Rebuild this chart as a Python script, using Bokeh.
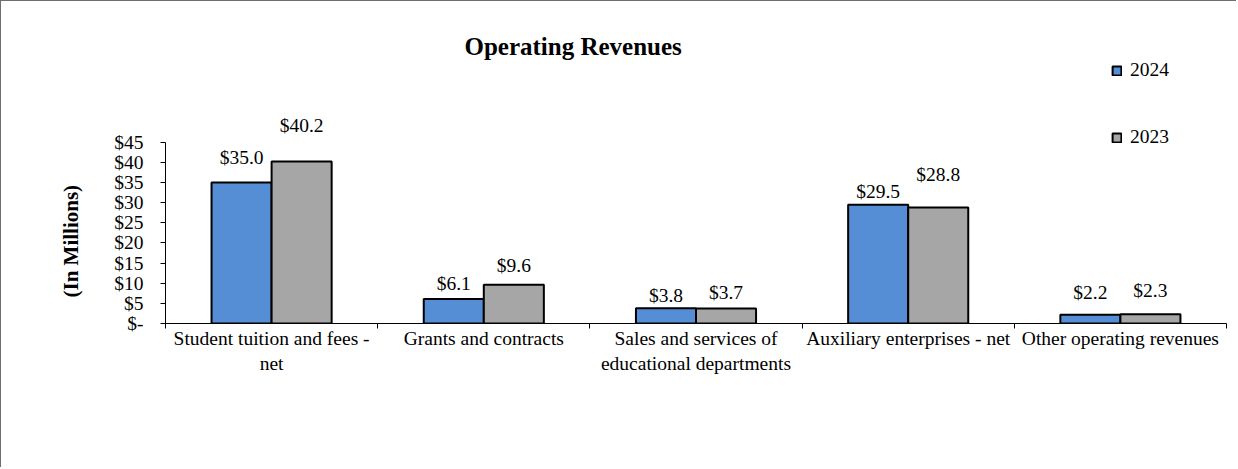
from bokeh.plotting import figure
from bokeh.models import (Range1d, FixedTicker, CustomJSTickFormatter, Legend,
                          LegendItem, ColumnDataSource, Title)
from bokeh.transform import dodge
from bokeh.core.properties import value
from bokeh.embed import file_html
from bokeh.resources import INLINE

# ---------------- data ----------------
categories = [
    "Student tuition and fees - net",
    "Grants and contracts",
    "Sales and services of educational departments",
    "Auxiliary enterprises - net",
    "Other operating revenues",
]
category_labels = [
    "Student tuition and fees -\nnet",
    "Grants and contracts",
    "Sales and services of\neducational departments",
    "Auxiliary enterprises - net",
    "Other operating revenues",
]
series_names = ["2024", "2023"]
values_2024 = [35.0, 6.1, 3.8, 29.5, 2.2]
values_2023 = [40.2, 9.6, 3.7, 28.8, 2.3]
y_ticks = [0, 5, 10, 15, 20, 25, 30, 35, 40, 45]

# label lift above bar top (px) -- layout, kept apart from the data
lift_2024 = [25, 15, 13, 13, 22]
lift_2023 = [36, 19, 16, 33, 24]

# ---------------- styles ----------------
FONT = "Liberation Serif"
BLUE = "#558ED5"
GRAY = "#A6A6A6"
BAR_W = 0.283

n = len(categories)
src = ColumnDataSource(dict(
    x=[i + 0.5 for i in range(n)],
    v2024=values_2024,
    v2023=values_2023,
    t2024=["$%.1f" % v for v in values_2024],
    t2023=["$%.1f" % v for v in values_2023],
    dy2024=[-d for d in lift_2024],
    dy2023=[-d for d in lift_2023],
))

p = figure(width=1236, height=467, output_backend="svg", toolbar_location=None,
           x_range=Range1d(0, n), y_range=Range1d(0, 65.8),
           min_border_left=164, min_border_right=11,
           min_border_top=57, min_border_bottom=145,
           title="Operating Revenues")
p.styles = {"border-left": "1px solid #6e6e6e", "border-top": "1px solid #6e6e6e"}
p.background_fill_color = "white"
p.border_fill_color = "white"
p.outline_line_color = None
p.xgrid.visible = False
p.ygrid.visible = False

p.title.text_font = FONT
p.title.text_font_size = "25px"
p.title.text_font_style = "bold"
p.title.text_color = "black"
p.title.align = "left"
p.title.offset = 299
p.title.standoff = -3

r1 = p.vbar(x=dodge("x", -BAR_W / 2, range=p.x_range), top="v2024", width=BAR_W,
            source=src, fill_color=BLUE, line_color="black", line_width=2)
r2 = p.vbar(x=dodge("x", BAR_W / 2, range=p.x_range), top="v2023", width=BAR_W,
            source=src, fill_color=GRAY, line_color="black", line_width=2)

for col, txt, dy, off in (("v2024", "t2024", "dy2024", -BAR_W / 2),
                          ("v2023", "t2023", "dy2023", BAR_W / 2)):
    p.text(x=dodge("x", off, range=p.x_range), y=col, text=txt, y_offset=dy,
           source=src, text_align="center", text_baseline="middle",
           text_font=value(FONT), text_font_size="19.5px", text_color="black")

# x axis
xa = p.xaxis[0]
xa.ticker = FixedTicker(ticks=[i + 0.5 for i in range(n)],
                        minor_ticks=[i for i in range(n + 1)])
xa.formatter = CustomJSTickFormatter(args=dict(labels=category_labels),
                                     code="return labels[Math.floor(tick)];")
xa.major_tick_out = 0
xa.major_tick_in = 0
xa.minor_tick_out = 5
xa.minor_tick_in = 0
xa.minor_tick_line_color = "black"
xa.axis_line_color = "black"
xa.major_label_text_font = FONT
xa.major_label_text_font_size = "19.5px"
xa.major_label_text_color = "black"
xa.major_label_text_line_height = 1.2
xa.major_label_standoff = -1

# y axis
ya = p.yaxis[0]
ya.bounds = (0, 45)
ya.ticker = FixedTicker(ticks=y_ticks, minor_ticks=[])
ya.formatter = CustomJSTickFormatter(code="return tick == 0 ? '$-' : '$' + tick;")
ya.major_tick_out = 5
ya.major_tick_in = 0
ya.minor_tick_line_color = None
ya.axis_line_color = "black"
ya.major_tick_line_color = "black"
ya.major_label_text_font = FONT
ya.major_label_text_font_size = "19.5px"
ya.major_label_text_color = "black"
ya.major_label_standoff = 17

# y axis title as a side title, so it can sit centred on the 0-45 span
ytitle = Title(text="(In Millions)", align="left", offset=26, standoff=58,
               text_font=FONT, text_font_size="21px", text_font_style="bold",
               text_color="black")
p.add_layout(ytitle, "left")

legend = Legend(items=[LegendItem(label=series_names[0], renderers=[r1]),
                       LegendItem(label=series_names[1], renderers=[r2])],
                location=(946, 175), orientation="vertical")
legend.glyph_width = 11
legend.glyph_height = 11
legend.label_height = 20
legend.label_standoff = 8
legend.spacing = 45
legend.padding = 0
legend.margin = 0
legend.border_line_color = None
legend.background_fill_alpha = 0
legend.label_text_font = FONT
legend.label_text_font_size = "19.5px"
legend.label_text_color = "black"
p.add_layout(legend)

open("out.html", "w").write(file_html(p, INLINE))
